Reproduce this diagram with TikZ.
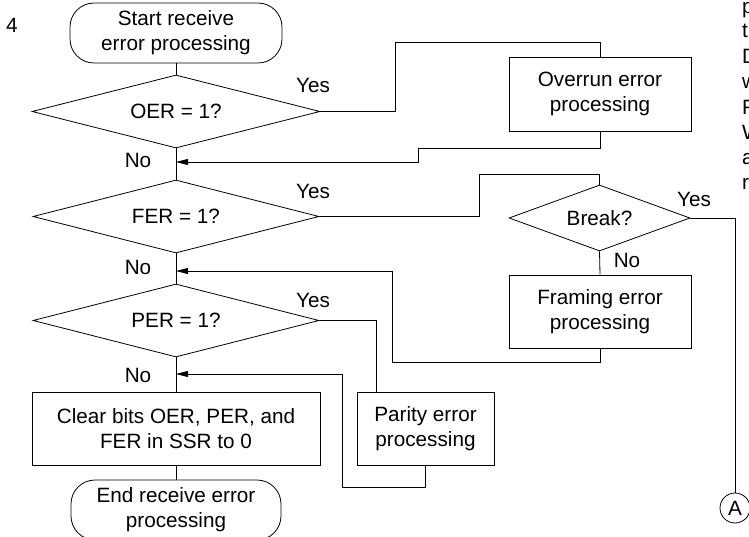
\documentclass[tikz,border=0pt]{standalone}
\usepackage{fontspec}
\setmainfont{Liberation Sans}
\usetikzlibrary{shapes.geometric,arrows.meta,calc}
\begin{document}
\begin{tikzpicture}[x=1pt,y=-1pt,
  every node/.style={font=\fontsize{20.7}{25}\selectfont},
  line/.style={draw, line width=0.8pt},
  term/.style={draw, line width=0.8pt, rounded corners=24pt, minimum width=212pt, minimum height=60pt, inner sep=0pt, align=center},
  dec/.style={draw, line width=0.8pt, diamond, aspect=4, inner sep=0pt, minimum width=288pt, minimum height=73pt},
  proc/.style={draw, line width=0.8pt, rectangle, inner sep=0pt, align=center, minimum height=73pt},
  lbl/.style={inner sep=0pt, anchor=base},
  frag/.style={inner sep=0pt, anchor=base west},
  arr/.style={line width=0.8pt, -{Triangle[length=12pt,width=6pt]}}
]
\path[use as bounding box] (0,0) rectangle (749,537);
\clip (0,0) rectangle (749,537);

% nodes
\node[lbl] (four) at (12,33) {4};
\node[term] (start) at (176,33) {Start receive\\error processing};
\node[dec] (oer) at (176,111.5) {OER = 1?};
\node[dec, minimum width=286pt] (fer) at (176,216.5) {FER = 1?};
\node[dec, minimum width=286pt] (per) at (176,320.5) {PER = 1?};
\node[proc, minimum width=288pt] (clear) at (176,428.5) {Clear bits OER, PER, and\\FER in SSR to 0};
\node[term, minimum width=210pt] (end) at (176,510) {End receive error\\processing};
\node[proc, minimum width=182pt, minimum height=74pt] (over) at (600,94) {Overrun error\\processing};
\node[dec, aspect=2.7, minimum width=181pt, minimum height=66pt] (brk) at (599.5,218) {Break?};
\node[proc, minimum width=182pt] (fram) at (600,311.5) {Framing error\\processing};
\node[proc, minimum width=137pt] (par) at (425.5,428.5) {Parity error\\processing};
\node[circle, draw, line width=0.8pt, minimum size=30pt, inner sep=0pt] (A) at (735,508) {A};

\coordinate (j1) at (176,162);
\coordinate (j2) at (176,271);
\coordinate (j3) at (176,374);

% labels
\node[lbl] (y1) at (313,93) {Yes};
\node[lbl] (n1) at (138,168) {No};
\node[lbl] (y2) at (313,199) {Yes};
\node[lbl] (n2) at (138,274) {No};
\node[lbl] (y3) at (313,307) {Yes};
\node[lbl] (n3) at (138,382) {No};
\node[lbl] (y4) at (694,207) {Yes};
\node[lbl] (n4) at (627,268) {No};

% cut-off text column at the right edge
\node[frag] (f1) at (742,14) {p};
\node[frag] (f2) at (742,38) {th};
\node[frag] (f3) at (742,64) {D};
\node[frag] (f4) at (742,89) {w};
\node[frag] (f5) at (742,115) {F};
\node[frag] (f6) at (742,140) {W};
\node[frag] (f7) at (742,165) {a};
\node[frag] (f8) at (742,190) {r};

% spine
\draw[line] (start) -- (oer);
\draw[line] (oer) -- (fer);
\draw[line] (fer) -- (per);
\draw[line] (per) -- (clear);
\draw[line] (clear) -- (end);

% OER branch
\draw[line] (oer.east) -- (395,111.5) -- (395,42) -| (over.north);
\draw[arr] (over.south) -- (600,148) -| (418,162) -- (j1);

% FER branch
\draw[line] (fer.east) -- (479,216.5) -- (479,174) -| (brk.north);
\draw[line] (brk.east) -| (A.north);
\draw[line] (brk.south) -- (fram.north);
\draw[arr] (fram.south) -- (600,362) -| (392,271) -- (j2);

% PER branch
\draw[line] (per.east) -| ([xshift=-49.5pt]par.north);
\draw[arr] (par.south) -- (425.5,487) -| (342,374) -- (j3);
\end{tikzpicture}
\end{document}
